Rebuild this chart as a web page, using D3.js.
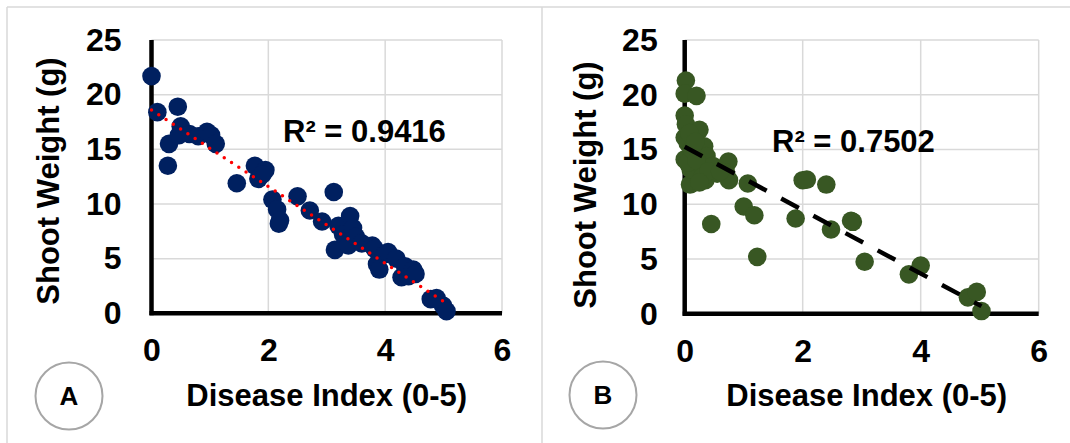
<!DOCTYPE html>
<html>
<head>
<meta charset="utf-8">
<script src="https://cdn.jsdelivr.net/npm/d3@7"></script>
<style>
  body { margin: 0; background: #fff; }
  svg text { font-family: "Liberation Sans", Arial, sans-serif; font-weight: bold; fill: #000; }
</style>
</head>
<body>
<div id="chart"></div>
<script>
// panel A: shoot weight vs disease index (navy)
const pointsA = [
  [0, 21.7], [0.1, 18.4], [0.45, 18.9], [0.3, 15.5], [0.28, 13.5], [0.5, 17.1],
  [0.47, 16.3], [0.65, 16.4], [0.8, 16.2], [0.95, 16.6], [1.02, 16.3], [1.1, 15.5],
  [1.46, 11.9], [1.77, 13.5], [1.83, 12.3], [1.95, 13.1], [1.9, 12.7], [2.07, 10.4],
  [2.15, 9.5], [2.18, 8.2], [2.2, 8.5], [2.5, 10.7], [2.71, 9.4], [2.92, 8.4],
  [3.12, 11.1], [3.14, 5.8], [3.2, 8.0], [3.28, 7.2], [3.37, 6.2], [3.4, 8.9],
  [3.45, 7.8], [3.5, 7.0], [3.6, 6.4], [3.78, 6.2], [3.82, 5.9], [3.86, 4.5],
  [3.9, 4.0], [3.99, 5.4], [4.05, 5.6], [4.19, 5.0], [4.28, 3.3], [4.34, 4.3],
  [4.4, 3.4], [4.48, 4.0], [4.52, 3.6], [4.78, 1.3], [4.88, 1.4], [4.99, 0.7],
  [5.05, 0.2]
];
// panel B (green)
const pointsB = [
  [0.02, 21.3], [0, 20.1], [0.2, 19.9], [0, 18.1], [0.02, 17.3], [0.25, 16.8],
  [0, 16.1], [0.05, 15.6], [0.33, 15.3], [0.15, 14.6], [0, 14.1], [0.37, 14.4],
  [0.28, 13.2], [0.48, 13.5], [0.74, 13.9], [0.7, 12.9], [0.75, 12.2], [0.09, 11.8],
  [0.35, 12.2], [0.2, 12.8], [0.1, 13.2], [0.55, 12.8], [0.05, 13.8], [0.12, 15.0],
  [0.2, 14.0], [0.3, 12.5], [0.4, 13.0], [0.08, 16.5], [0.18, 15.7], [0.6, 13.0],
  [0.25, 12.0], [1.07, 11.9], [2.0, 12.2], [2.07, 12.25], [2.4, 11.8], [0.45, 8.2],
  [1.0, 9.8], [1.18, 9.0], [1.23, 5.2], [1.88, 8.7], [2.48, 7.7], [2.85, 8.4],
  [2.82, 8.5], [3.05, 4.75], [3.8, 3.6], [4.0, 4.4], [4.8, 1.5], [4.95, 2.0],
  [5.03, 0.25]
];
// trend line end points
const trendA = [[0, 18.6], [5.05, 0.9]];
const trendB = [[0, 15.25], [5.03, 0.7]];

const xTicks = [0, 2, 4, 6];
const yTicks = [0, 5, 10, 15, 20, 25];
const xTitle = 'Disease Index (0-5)';
const yTitle = 'Shoot Weight (g)';
const r2Labels = ['R\u00b2 = 0.9416', 'R\u00b2 = 0.7502'];
const panelLetters = ['A', 'B'];

const W = 1070, H = 443;

const svg = d3.select('#chart').append('svg')
  .attr('width', W)
  .attr('height', H);

// outer frame lines
svg.append('line').attr('x1', 7).attr('x2', W).attr('y1', 7).attr('y2', 7)
  .attr('stroke', '#d9d9d9').attr('stroke-width', 1.5);
svg.append('line').attr('x1', 7).attr('x2', 7).attr('y1', 7).attr('y2', H)
  .attr('stroke', '#d9d9d9').attr('stroke-width', 1.5);
svg.append('line').attr('x1', 542).attr('x2', 542).attr('y1', 7).attr('y2', H)
  .attr('stroke', '#d9d9d9').attr('stroke-width', 1.5);

/**
 * draws one scatter panel
 */
function drawPanel(cfg) {
  const x = d3.scaleLinear().domain([0, 6]).range([cfg.x0, cfg.x1]);
  const y = d3.scaleLinear().domain([0, 25]).range([cfg.y0, cfg.y1]);
  const g = svg.append('g');

  // grid
  g.selectAll('.gy').data(yTicks.slice(1)).join('line')
    .attr('x1', x(0)).attr('x2', x(6))
    .attr('y1', d => y(d)).attr('y2', d => y(d))
    .attr('stroke', '#d9d9d9').attr('stroke-width', 1.5);
  g.selectAll('.gx').data(xTicks.slice(1)).join('line')
    .attr('x1', d => x(d)).attr('x2', d => x(d))
    .attr('y1', y(0)).attr('y2', y(25))
    .attr('stroke', '#d9d9d9').attr('stroke-width', 1.5);

  // axes via d3 axis generators, then restyle
  const ax = g.append('g')
    .attr('transform', 'translate(0,' + y(0) + ')')
    .call(d3.axisBottom(x).tickValues(xTicks).tickFormat(d3.format('d'))
      .tickSize(0).tickPadding(25));
  const ay = g.append('g')
    .attr('transform', 'translate(' + x(0) + ',0)')
    .call(d3.axisLeft(y).tickValues(yTicks).tickFormat(d3.format('d'))
      .tickSize(0).tickPadding(cfg.yPad));
  [ax, ay].forEach(a => {
    a.select('.domain').attr('stroke', '#000').attr('stroke-width', 4.5);
    a.selectAll('text')
      .attr('font-size', 32)
      .attr('font-family', '"Liberation Sans", Arial, sans-serif')
      .attr('font-weight', 'bold')
      .attr('fill', '#000');
  });
  ax.select('.domain').attr('d', 'M' + (x(0) - 2) + ',0H' + x(6));
  ay.select('.domain').attr('d', 'M0,' + (y(0) + 2) + 'V' + y(25));

  // points
  g.selectAll('circle.pt').data(cfg.points).join('circle')
    .attr('class', 'pt')
    .attr('cx', d => x(d[0]))
    .attr('cy', d => y(d[1]))
    .attr('r', 9.3)
    .attr('fill', cfg.color);

  // trend line
  g.append('path')
    .attr('d', d3.line().x(d => x(d[0])).y(d => y(d[1]))(cfg.trend))
    .attr('fill', 'none')
    .attr('stroke', cfg.trendColor)
    .attr('stroke-width', cfg.trendWidth)
    .attr('stroke-linecap', cfg.trendCap)
    .attr('stroke-dasharray', cfg.trendDash);

  // R squared
  g.append('text')
    .attr('x', cfg.r2x).attr('y', cfg.r2y)
    .attr('font-size', 31)
    .text(cfg.r2);

  // axis titles
  g.append('text')
    .attr('x', (cfg.x0 + cfg.x1) / 2 + cfg.xtOff).attr('y', 406)
    .attr('text-anchor', 'middle')
    .attr('font-size', 31)
    .text(xTitle);
  g.append('text')
    .attr('transform', 'translate(' + cfg.ytx + ',' + cfg.yty + ') rotate(-90)')
    .attr('text-anchor', 'middle')
    .attr('font-size', 31)
    .text(yTitle);

  // panel letter badge
  g.append('circle')
    .attr('cx', cfg.cx).attr('cy', cfg.cy).attr('r', 33.5)
    .attr('fill', '#fff').attr('stroke', '#a6a6a6').attr('stroke-width', 2);
  g.append('text')
    .attr('x', cfg.cx).attr('y', cfg.cy + 9)
    .attr('text-anchor', 'middle')
    .attr('font-size', 26)
    .text(cfg.letter);
}

drawPanel({
  x0: 151.5, x1: 502, y0: 313.3, y1: 40, yPad: 30,
  points: pointsA, color: '#002060',
  trend: trendA, trendColor: '#ff0000', trendWidth: 3.5,
  trendCap: 'round', trendDash: '0 8.7',
  r2: r2Labels[0], r2x: 283, r2y: 142,
  xtOff: 0, ytx: 59, yty: 181,
  cx: 69, cy: 396, letter: panelLetters[0]
});

drawPanel({
  x0: 684.7, x1: 1038.7, y0: 313.8, y1: 40, yPad: 27,
  points: pointsB, color: '#385723',
  trend: trendB, trendColor: '#000', trendWidth: 4.5,
  trendCap: 'butt', trendDash: '20 16.5',
  r2: r2Labels[1], r2x: 772, r2y: 152,
  xtOff: 5, ytx: 596, yty: 185,
  cx: 603, cy: 395, letter: panelLetters[1]
});
</script>
</body>
</html>
